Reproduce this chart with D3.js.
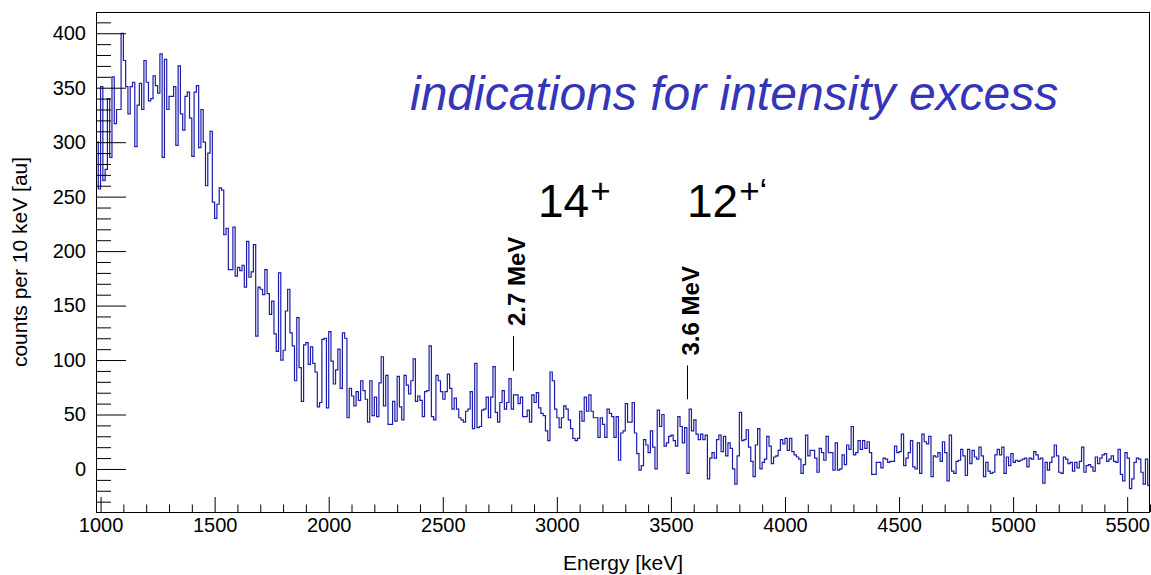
<!DOCTYPE html>
<html><head><meta charset="utf-8">
<script src="https://cdn.jsdelivr.net/npm/d3@7"></script>
<style>body{margin:0;background:#fff}svg{display:block}text{font-family:"Liberation Sans",Arial,Helvetica,sans-serif}</style>
</head><body>
<svg id="c" width="1151" height="575"></svg>
<script>
// ---- data (counts per 10 keV bin, starting at 980 keV) ----
const binStart = 980, binWidth = 10;
const countsA = [300,257,351,265,275,340,286,360,317,330,330,400,375,351,326,351,355,296,334,354,330,375,355,338,340,361,352,345,381,286,376,330,342,342,351,297,370,326,311,342,346,322,287,346,352,295];
const countsB = [330,300,260,290,310,245];
const countsC = [230,243,258,256,215,221,183,183,222,177,185,182,187,167,209,176,181,206,122,167,165,160,183,161,142,154,124,108,180,100,109,145,165,125,113,81,139,93,62,114];
const countsD = [116,96,112,97,89,57,61,119,120,56,126,99,78,91,110,74,125,120,47,74,67,58,71,63,81,72,64,43,81,49,66,48,79,103,58,86,41,41,62,44,85,57,45,86,77,69];
const countsE = [81,101,62,67,63,48,71,72,113,48,45,86,81,71,64,71,87,74,55,65,55,47,45,43,53,55,71,37,97,38,39,54,55,66,47,66,94,52,43,61,72,55,61,83,55,68];
const countsF = [68,60,66,48,48,54,43,68,61,70,56,51,49,35,26,89,81,55,47,38,47,58,55,45,37,28,26,28,53,44,66,53,68,53,47,47,29,47,41,29,55,51,48,29,48,8];
const countsG = [33,35,60,43,43,61,33,14,-1,3,27,22,15,35,20,0,54,39,50,21,24,30,31,26,21,48,39,24,38,-4,55,35,45,32,27,32,27,31,-9,10,15,10,27,31,16,30];
const countsH = [12,24,19,0,-14,12,52,26,27,36,20,7,-7,22,37,0,6,9,30,21,5,11,12,17,27,23,28,17,28,16,13,11,9,-4,4,31,12,17,17,10,-3,19,15,8,30,15];
const countsI = [15,-1,24,-1,0,13,4,22,18,39,13,15,26,18,26,19,25,15,-5,-5,6,6,1,10,9,6,7,7,21,15,16,32,3,10,15,26,2,0,24,-4,32,25,23,30,-7,12];
const countsJ = [11,15,7,25,15,-11,31,-2,-4,7,8,18,12,-6,18,5,17,11,9,20,12,-7,6,-2,-4,-3,13,18,13,20,-4,11,3,14,6,8,7,8,9,10,2,10,9,16,13,9];
const countsK = [10,-13,6,-1,6,11,22,12,-3,-4,11,9,5,6,-2,6,1,7,20,-3,3,4,2,-2,11,5,10,13,14,7,9,12,7,6,18,-5,-11,15,10,-18,-9,6,10,9,-3,-14,9,-15];
const counts = [].concat(countsA,countsB,countsC,countsD,countsE,countsF,countsG,countsH,countsI,countsJ,countsK);

const xMajor = [1000,1500,2000,2500,3000,3500,4000,4500,5000,5500];
const yMajor = [0,50,100,150,200,250,300,350,400];
const markerLabels = ["2.7 MeV","3.6 MeV"];
const markerEnergy = [2806,3569];
const markerTop = [122,95];
const markerBottom = [90,64];
const levelMain = ["14","12"];
const levelSup = ["+","+\u2018"];
const titleText = "indications for intensity excess";
const xTitle = "Energy [keV]";
const yTitle = "counts per 10 keV [au]";

// ---- layout ----
const L = 96, R = 1150, T = 12, B = 512;
const xMin = binStart, xMax = binStart + counts.length*binWidth;
const x = d3.scaleLinear().domain([xMin, xMax]).range([L, R]);
const y = d3.scaleLinear().domain([-39.5, 419.5]).range([B, T]);
const svg = d3.select("#c");

svg.append("clipPath").attr("id","clip").append("rect")
  .attr("x",L).attr("y",T).attr("width",R-L).attr("height",B-T);

// histogram outline
const pts = [];
counts.forEach((c,i)=>{ const e0 = binStart + i*binWidth; pts.push([e0,c],[e0+binWidth,c]); });
const line = d3.line().x(d=>x(d[0])).y(d=>y(d[1]));
svg.append("path").attr("d", line(pts)).attr("fill","none")
  .attr("stroke","#1c1cab").attr("stroke-width",1.2).attr("clip-path","url(#clip)");

// axes
const xMinor = d3.range(1000, 5601, 100).filter(v=>v%500!==0);
const yMinor = d3.range(-30, 411, 10).filter(v=>v%50!==0);
const gx = svg.append("g").attr("transform",`translate(0,${B})`);
gx.call(d3.axisBottom(x).tickValues(xMajor).tickSize(-15).tickPadding(6).tickFormat(d3.format("d")));
gx.append("g").call(d3.axisBottom(x).tickValues(xMinor).tickSize(-7.5).tickFormat(""));
const gy = svg.append("g").attr("transform",`translate(${L},0)`);
gy.call(d3.axisLeft(y).tickValues(yMajor).tickSize(-30).tickPadding(10).tickFormat(d3.format("d")));
gy.append("g").call(d3.axisLeft(y).tickValues(yMinor).tickSize(-15).tickFormat(""));
svg.selectAll(".domain").remove();
svg.selectAll(".tick line").attr("stroke","#000").attr("stroke-width",1);
svg.selectAll(".tick text").attr("font-size",20).attr("fill","#000")
  .style("font-family","'Liberation Sans',Arial,sans-serif");

// frame
svg.append("rect").attr("x",L+0.5).attr("y",T+0.5).attr("width",R-L-1).attr("height",B-T)
  .attr("fill","none").attr("stroke","#000").attr("stroke-width",1);

// axis titles
svg.append("text").attr("x",(L+R)/2).attr("y",570).attr("text-anchor","middle")
  .attr("font-size",21).text(xTitle);
svg.append("text").attr("transform",`translate(27,${(T+B)/2}) rotate(-90)`)
  .attr("text-anchor","middle").attr("font-size",21).text(yTitle);

// markers
markerLabels.forEach((lab,i)=>{
  const xx = Math.round(x(markerEnergy[i]))+0.5;
  svg.append("line").attr("x1",xx).attr("x2",xx)
    .attr("y1",y(markerTop[i])).attr("y2",y(markerBottom[i]))
    .attr("stroke","#000").attr("stroke-width",1);
  svg.append("text").attr("transform",`translate(${xx+11.5},${y(markerTop[i])-10}) rotate(-90)`)
    .attr("font-size",24).attr("font-weight","bold").text(lab);
});

// level labels
const levelX = [538,687];
levelMain.forEach((t,i)=>{
  const tx = svg.append("text").attr("x",levelX[i]).attr("y",217).attr("font-size",46);
  tx.append("tspan").text(t);
  tx.append("tspan").attr("font-size",35).attr("dy",-14).attr("dx",1).text(levelSup[i]);
});

// title
svg.append("text").attr("x",410).attr("y",110).attr("font-size",48)
  .attr("font-style","italic").attr("fill","#3535b8").text(titleText);
</script>
</body></html>
